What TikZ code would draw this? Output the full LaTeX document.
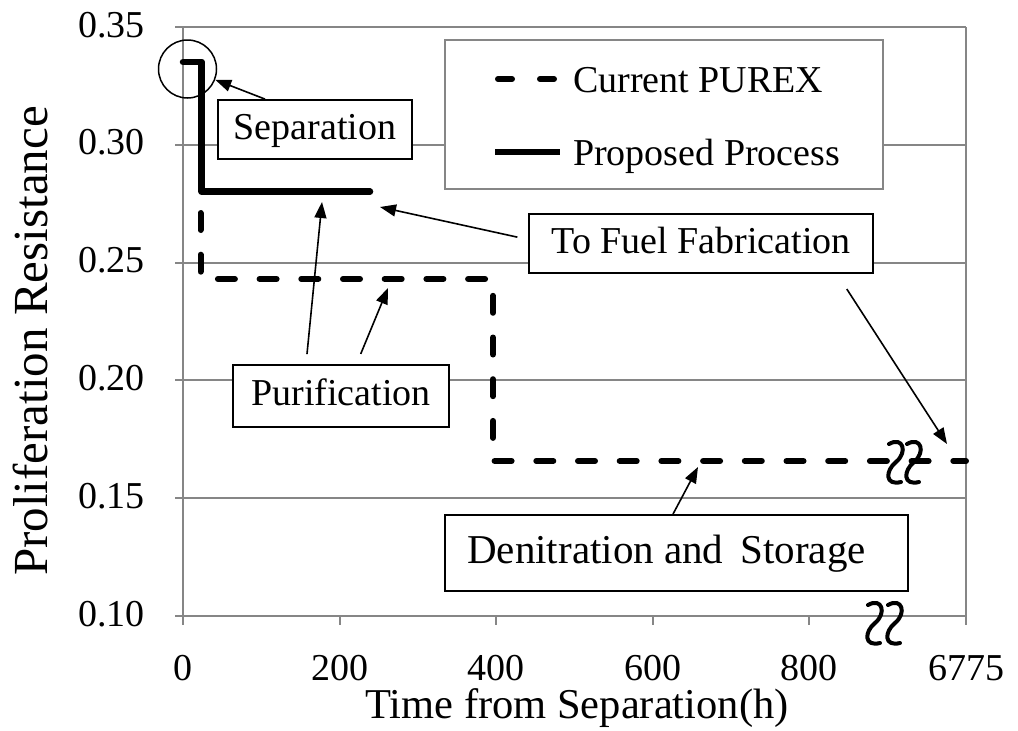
\documentclass[tikz,border=0pt]{standalone}
\usepackage{fontspec}
\setmainfont{Liberation Serif}
\usetikzlibrary{arrows.meta}
\definecolor{gridgray}{RGB}{134,134,134}
\begin{document}
\begin{tikzpicture}[x=1pt,y=-1pt,
  gridline/.style={draw=gridgray, line width=2pt},
  lbl/.style={draw=black, fill=white, line width=1.8pt, font=\fontsize{38}{46}\selectfont, inner sep=0pt, text height=27pt, text depth=8pt},
  legbox/.style={draw=gridgray, fill=white, line width=2pt, inner sep=0pt},
  ticklbl/.style={font=\fontsize{38}{46}\selectfont, inner sep=0pt},
  arr/.style={-{Triangle[length=16pt,width=12pt]}, line width=1.6pt},
  solidline/.style={line width=6.5pt, line cap=round, line join=round},
  dashline/.style={line width=6pt, line cap=round, dash pattern=on 17pt off 24.7pt, dash phase=15.8pt},
  brk/.pic={\draw[line width=4pt, line cap=round] (-6,-18) .. controls (8,-26) and (13,-10) .. (1,0) .. controls (-10,9) and (-10,24) .. (6,20);}
]
\useasboundingbox (0,0) rectangle (1018,731);
% grid and axes
\foreach \yy in {27,144.8,262.6,380.4,498.2} {\draw[gridline] (175,\yy) -- (966,\yy);}
\draw[gridline] (175,616) -- (966,616);
\draw[gridline] (183,27) -- (183,625);
\draw[gridline] (966,27) -- (966,625);
\foreach \xx in {339.6,496.2,652.8,809.4} {\draw[gridline] (\xx,616) -- (\xx,625);}
% tick labels
\node[ticklbl, anchor=base east] (y35) at (145,37) {0.35};
\node[ticklbl, anchor=base east] (y30) at (145,154.8) {0.30};
\node[ticklbl, anchor=base east] (y25) at (145,272.6) {0.25};
\node[ticklbl, anchor=base east] (y20) at (145,390.4) {0.20};
\node[ticklbl, anchor=base east] (y15) at (145,508.2) {0.15};
\node[ticklbl, anchor=base east] (y10) at (145,626) {0.10};
\node[ticklbl, anchor=base] (x0) at (183,680) {0};
\node[ticklbl, anchor=base] (x200) at (339.6,680) {200};
\node[ticklbl, anchor=base] (x400) at (496.2,680) {400};
\node[ticklbl, anchor=base] (x600) at (652.8,680) {600};
\node[ticklbl, anchor=base] (x800) at (809.4,680) {800};
\node[ticklbl, anchor=base] (x6775) at (966,680) {6775};
\node[font=\fontsize{42.5}{50}\selectfont, inner sep=0pt, anchor=base west] (xt) at (365,718) {Time from Separation(h)};
\node[font=\fontsize{49}{56}\selectfont, inner sep=0pt, anchor=base, rotate=90] (yt) at (47,341) {Proliferation Resistance};
% data
\coordinate (d0) at (200.5,62);
\coordinate (d1) at (200.5,279);
\coordinate (d2) at (493,279);
\coordinate (d3) at (493,461);
\coordinate (d4) at (966,461);
\draw[dashline] (d0) -- (d1) -- (d2) -- (d3) -- (d4);
\coordinate (s0) at (183,62);
\coordinate (s1) at (201.7,62);
\coordinate (s2) at (201.7,191.7);
\coordinate (s3) at (370,191.7);
\draw[solidline] (s0) -- (s1) -- (s2) -- (s3);
% legend
\node[legbox, minimum width=438pt, minimum height=149pt] (leg) at (664,114.5) {};
\coordinate (la) at (498,79);
\coordinate (lb) at (555,79);
\draw[line width=6pt, line cap=round, dash pattern=on 14pt off 28pt] (la) -- (lb);
\coordinate (lc) at (495,152);
\coordinate (ld) at (560,152);
\draw[line width=6.5pt] (lc) -- (ld);
\node[ticklbl, anchor=base west] (l1) at (573,92) {Current PUREX};
\node[ticklbl, anchor=base west] (l2) at (573,165) {Proposed Process};
% label boxes
\node[lbl, minimum width=194pt, minimum height=59pt] (sep) at (315,129.5) {Separation};
\node[lbl, minimum width=344pt, minimum height=59pt] (fuel) at (701,243.5) {To Fuel Fabrication};
\node[lbl, minimum width=216pt, minimum height=62pt] (pur) at (341,396) {Purification};
\node[lbl, minimum width=463pt, minimum height=76pt, font=\fontsize{41}{48}\selectfont, text height=29pt, text depth=9pt] (den) at (676.5,553) {Denitration and\, Storage\rule{20pt}{0pt}};
% circle
\node[draw=black, line width=1.5pt, circle, minimum size=58pt, inner sep=0pt] (circ) at (187.5,69) {};
% arrows
\coordinate (tFuelA) at (380,207);
\coordinate (tFuelB) at (947,444);
\coordinate (tPurA) at (322,202);
\coordinate (tPurB) at (388,288);
\coordinate (tDen) at (698,467);
\draw[arr] ([xshift=-50pt]sep.north) -- (circ);
\draw[arr, shorten <=11pt] ([yshift=4pt]fuel.west) -- (tFuelA);
\draw[arr, shorten <=18pt] ([xshift=136pt]fuel.south) -- (tFuelB);
\draw[arr, shorten <=10pt] ([xshift=-35pt]pur.north) -- (tPurA);
\draw[arr, shorten <=11pt] ([xshift=15.5pt]pur.north) -- (tPurB);
\draw[arr] ([xshift=-3.5pt]den.north) -- (tDen);
% axis breaks
\pic at (895,462) {brk};
\pic at (913,462) {brk};
\pic at (874,623) {brk};
\pic at (894,623) {brk};
\end{tikzpicture}
\end{document}
